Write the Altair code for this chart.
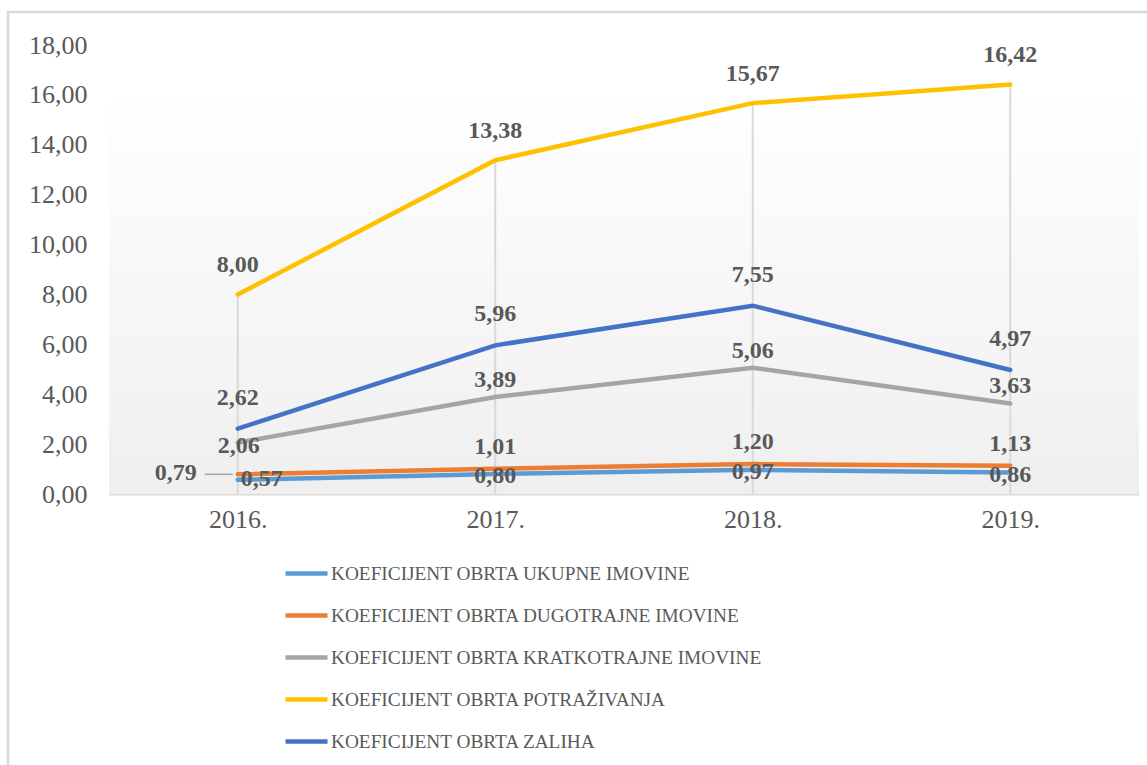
import altair as alt
import pandas as pd

years = ["2016.", "2017.", "2018.", "2019."]
series_names = [
    "KOEFICIJENT OBRTA UKUPNE IMOVINE",
    "KOEFICIJENT OBRTA DUGOTRAJNE IMOVINE",
    "KOEFICIJENT OBRTA KRATKOTRAJNE IMOVINE",
    "KOEFICIJENT OBRTA POTRAŽIVANJA",
    "KOEFICIJENT OBRTA ZALIHA",
]
ukupne = [0.57, 0.80, 0.97, 0.86]
dugotrajne = [0.79, 1.01, 1.20, 1.13]
kratkotrajne = [2.06, 3.89, 5.06, 3.63]
potrazivanja = [8.00, 13.38, 15.67, 16.42]
zaliha = [2.62, 5.96, 7.55, 4.97]
colors = ["#5B9BD5", "#ED7D31", "#A5A5A5", "#FFC000", "#4472C4"]
y_ticks = [0, 2, 4, 6, 8, 10, 12, 14, 16, 18]

rows = []
for name, vals in zip(series_names, [ukupne, dugotrajne, kratkotrajne, potrazivanja, zaliha]):
    for yr, v in zip(years, vals):
        rows.append({"year": yr, "series": name, "value": v,
                     "label": f"{v:.2f}".replace(".", ",")})
df = pd.DataFrame(rows)

W, H = 1030, 449
PAD_L, PAD_T = 109, 45
FONT = "Liberation Serif"
TXT = "#595959"

x_enc = alt.X("year:N", sort=years, title=None,
              scale=alt.Scale(type="point", padding=0.5, domain=years),
              axis=alt.Axis(labelFont=FONT, labelFontSize=26, labelColor=TXT,
                            labelAngle=0, ticks=False, domainColor="#d9d9d9",
                            domainWidth=2, labelPadding=12, grid=False))
y_axis = alt.Axis(values=y_ticks, labelFont=FONT, labelFontSize=26,
                  labelColor=TXT, ticks=False, domain=False, grid=False,
                  labelPadding=22,
                  labelExpr="replace(format(datum.value, '.2f'), '.', ',')")
y_scale = alt.Scale(domain=[0, 18], nice=False)
y_enc = alt.Y("value:Q", title=None, scale=y_scale, axis=y_axis)

bg = alt.Chart(alt.Data(values=[{}])).mark_rect(
    fill=alt.LinearGradient(
        gradient="linear", x1=0, x2=0, y1=0, y2=1,
        stops=[alt.GradientStop(color="#ffffff", offset=0),
               alt.GradientStop(color="#ffffff", offset=0.1),
               alt.GradientStop(color="#efefef", offset=1)])
).encode(x=alt.value(0), x2=alt.value(W), y=alt.value(0), y2=alt.value(H))

border = alt.Chart(alt.Data(values=[{}])).mark_rect(
    fill=None, stroke="#d9d9d9", strokeWidth=2.5
).encode(x=alt.value(8 - PAD_L), x2=alt.value(1200), y=alt.value(12 - PAD_T), y2=alt.value(820))

base = alt.Chart(df)

drops = base.transform_aggregate(
    maxv="max(value)", groupby=["year"]
).mark_rule(color="#d9d9d9", strokeWidth=2).encode(
    x=x_enc, y=alt.Y("maxv:Q", title=None, scale=y_scale, axis=y_axis),
    y2=alt.datum(0))

lines = base.mark_line(strokeWidth=4.5, strokeCap="round").encode(
    x=x_enc, y=y_enc,
    color=alt.Color("series:N", sort=series_names,
                    scale=alt.Scale(domain=series_names, range=colors),
                    legend=alt.Legend(title=None, orient="none", legendX=174, legendY=505,
                                      direction="vertical", symbolType="stroke",
                                      symbolSize=1764, symbolStrokeWidth=4.5,
                                      labelFont=FONT, labelFontSize=19.3, labelColor=TXT,
                                      labelOffset=1, rowPadding=8, padding=0,
                                      labelLimit=0)))


def labels(series, dx=0, dy=0, year_filter=None, exclude_year=None):
    ch = base.transform_filter(alt.datum.series == series)
    if year_filter is not None:
        ch = ch.transform_filter(alt.datum.year == year_filter)
    if exclude_year is not None:
        ch = ch.transform_filter(alt.datum.year != exclude_year)
    return ch.mark_text(font=FONT, fontSize=24, fontWeight="bold", color=TXT,
                        dx=dx, dy=dy, baseline="middle", align="center").encode(
        x=x_enc, y=y_enc, text="label:N")


leader = base.transform_filter(
    (alt.datum.series == series_names[1]) & (alt.datum.year == years[0])
).mark_rule(color="#A5A5A5", strokeWidth=1.5, xOffset=-33, x2Offset=-5).encode(
    x=x_enc, x2=alt.X2("year:N"), y=y_enc)

text_layers = [
    labels(series_names[0], dx=0, dy=2, exclude_year=years[0]),
    labels(series_names[0], dx=24, dy=-1, year_filter=years[0]),
    labels(series_names[1], dy=-22, exclude_year=years[0]),
    labels(series_names[1], dx=-62, dy=-1, year_filter=years[0]),
    labels(series_names[2], dy=-17, exclude_year=years[0]),
    labels(series_names[2], dx=1, dy=3, year_filter=years[0]),
    labels(series_names[3], dy=-29),
    labels(series_names[4], dy=-31),
]

chart = alt.layer(bg, border, drops, lines, leader, *text_layers).properties(
    width=W, height=H,
    autosize=alt.AutoSizeParams(type="none"),
    padding={"left": PAD_L, "top": PAD_T, "right": 1147 - PAD_L - W, "bottom": 765 - PAD_T - H},
    background="white",
).configure_view(stroke=None).configure_legend(
    labelFont=FONT, labelFontSize=19.3, labelColor=TXT
).configure_axis(labelFont=FONT)

chart.save("out.html", embed_options={"renderer": "svg", "actions": False})
